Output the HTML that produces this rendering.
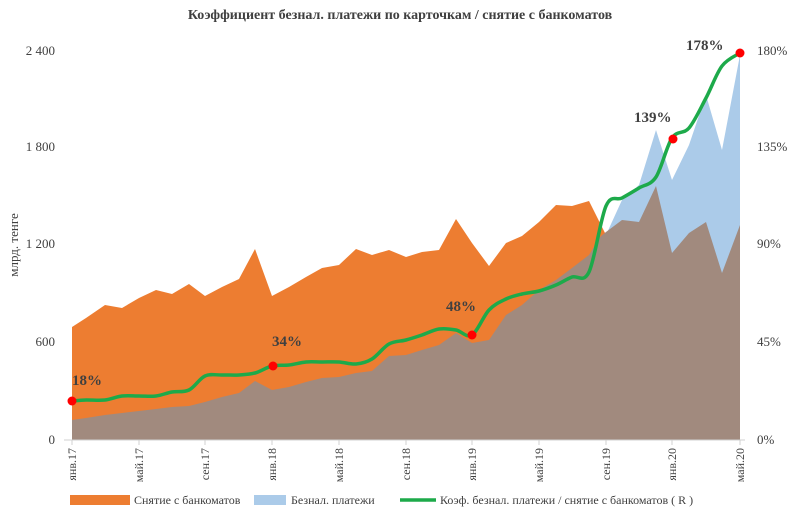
<!DOCTYPE html>
<html><head><meta charset="utf-8"><style>
body{margin:0;background:#fff;}
svg text{font-family:"Liberation Serif",serif;fill:#404040;}
</style></head><body>
<svg width="800" height="510" xmlns="http://www.w3.org/2000/svg">
<rect width="800" height="510" fill="#fff"/>
<text x="400" y="19" text-anchor="middle" font-size="14" font-weight="bold" fill="#404040">Коэффициент безнал. платежи по карточкам / снятие с банкоматов</text>
<polygon fill="#ED7D31" points="72,440 72,327 86,318 105,305 122,308 139,298 156,290 172,294 189,284 205,296 222,287 239,279 255,249 272,296 289,287 306,277 322,268 339,265 356,249 372,255 389,250 406,257 422,252 439,250 456,219 472,243 489,266 506,243 522,236 539,222 556,205 572,206 589,201 606,235 606,440"/>
<polygon fill="#ABCBE9" points="606,440 606,235 622,200 639,185 656,130 672,180 689,145 706,95 722,150 740,55 740,440"/>
<polygon fill="#A18A7E" points="72,440 72,420 86,418 105,415 122,413 139,411 156,409 172,407 189,406 205,402 222,397 239,393 255,381 272,390 289,387 306,382 322,378 339,377 356,373 372,371 389,356 406,355 422,350 439,345 456,333 472,343 489,340 506,315 522,305 539,290 556,280 572,268 589,255 600,237 606,232 622,220 639,222 656,186 672,253 689,233 706,222 722,273 740,225 740,440"/>
<line x1="64" y1="440" x2="745" y2="440" stroke="#d0d0d0"/>
<g stroke="#d0d0d0">
<line x1="72" y1="440" x2="72" y2="445"/><line x1="139" y1="440" x2="139" y2="445"/><line x1="205" y1="440" x2="205" y2="445"/><line x1="272" y1="440" x2="272" y2="445"/><line x1="339" y1="440" x2="339" y2="445"/><line x1="406" y1="440" x2="406" y2="445"/><line x1="472" y1="440" x2="472" y2="445"/><line x1="539" y1="440" x2="539" y2="445"/><line x1="606" y1="440" x2="606" y2="445"/><line x1="672" y1="440" x2="672" y2="445"/><line x1="740" y1="440" x2="740" y2="445"/>
</g>
<path id="gl" fill="none" stroke="#1DAA4A" stroke-width="3.5" stroke-linejoin="round" stroke-linecap="round" d=""/>
<g fill="#FF0000"><circle cx="72" cy="401" r="4.5"/><circle cx="273" cy="366" r="4.5"/><circle cx="472" cy="335" r="4.5"/><circle cx="673" cy="139" r="4.5"/><circle cx="740" cy="53" r="4.5"/></g>
<g font-size="15" font-weight="bold"><text x="72" y="385">18%</text><text x="272" y="346">34%</text><text x="446" y="311">48%</text><text x="634" y="122">139%</text><text x="686" y="50">178%</text></g>
<g font-size="13" text-anchor="end"><text x="55" y="444">0</text><text x="55" y="346">600</text><text x="55" y="248">1 200</text><text x="55" y="151">1 800</text><text x="55" y="55">2 400</text></g>
<text font-size="13" transform="translate(18,245) rotate(-90)" text-anchor="middle">млрд. тенге</text>
<g font-size="13"><text x="757" y="444">0%</text><text x="757" y="346">45%</text><text x="757" y="248">90%</text><text x="757" y="151">135%</text><text x="757" y="55">180%</text></g>
<g font-size="12" text-anchor="end">
<text transform="translate(76,448) rotate(-90)">янв.17</text><text transform="translate(143,448) rotate(-90)">май.17</text><text transform="translate(209,448) rotate(-90)">сен.17</text><text transform="translate(276,448) rotate(-90)">янв.18</text><text transform="translate(343,448) rotate(-90)">май.18</text><text transform="translate(410,448) rotate(-90)">сен.18</text><text transform="translate(476,448) rotate(-90)">янв.19</text><text transform="translate(543,448) rotate(-90)">май.19</text><text transform="translate(610,448) rotate(-90)">сен.19</text><text transform="translate(676,448) rotate(-90)">янв.20</text><text transform="translate(744,448) rotate(-90)">май.20</text>
</g>
<rect x="70" y="495" width="60" height="10" fill="#ED7D31"/><text x="134" y="504" font-size="12">Снятие с банкоматов</text>
<rect x="254" y="495" width="32" height="10" fill="#ABCBE9"/><text x="291" y="504" font-size="12">Безнал. платежи</text>
<line x1="400" y1="500" x2="436" y2="500" stroke="#1DAA4A" stroke-width="3.5"/><text x="440" y="504" font-size="12">Коэф. безнал. платежи / снятие с банкоматов ( R )</text>
</svg>
<script>
var p=[[72,401],[86,400],[105,400],[122,396],[139,396],[156,396],[172,392],[189,390],[205,376],[222,375],[239,375],[255,373],[272,366],[289,365],[306,362],[322,362],[339,362],[356,364],[372,359],[389,344],[406,340],[422,335],[439,329],[456,330],[472,335],[489,310],[506,299],[522,294],[539,291],[556,285],[572,277],[589,272],[606,206],[622,198],[639,188],[656,177],[672,138],[689,128],[706,98],[722,66],[740,53]];
var d="M"+p[0][0]+","+p[0][1];
for(var i=0;i<p.length-1;i++){var a=p[i-1]||p[i],b=p[i],c=p[i+1],e=p[i+2]||c;
d+=" C"+(b[0]+(c[0]-a[0])/6)+","+(b[1]+(c[1]-a[1])/6)+" "+(c[0]-(e[0]-b[0])/6)+","+(c[1]-(e[1]-b[1])/6)+" "+c[0]+","+c[1];}
document.getElementById("gl").setAttribute("d",d);
</script>
</body></html>
